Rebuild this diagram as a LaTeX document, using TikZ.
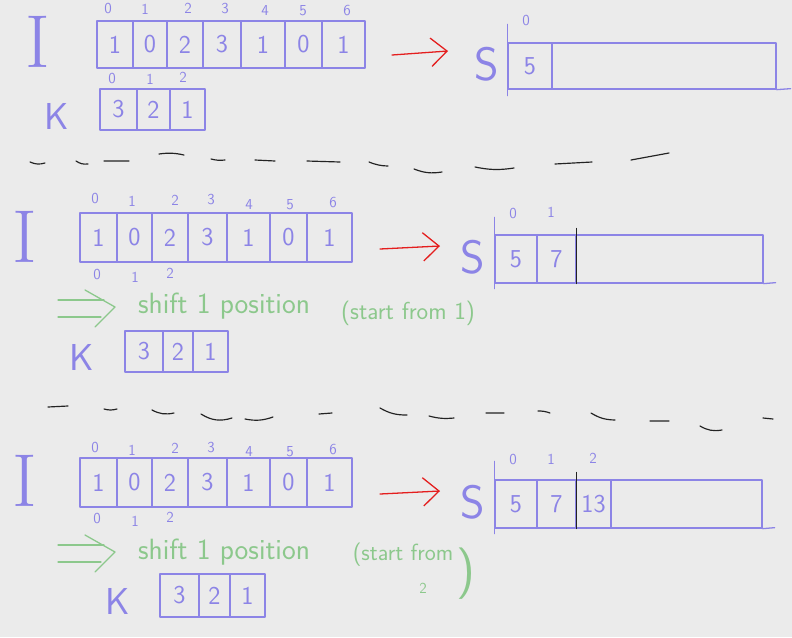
\documentclass[tikz,border=0pt]{standalone}
\usepackage{tikz}
\usetikzlibrary{arrows.meta}

\definecolor{hand}{RGB}{140,132,230}
\definecolor{redpen}{RGB}{228,30,30}
\definecolor{greenpen}{RGB}{140,200,140}
\definecolor{board}{RGB}{235,235,235}
\definecolor{inkpen}{RGB}{35,35,35}

\tikzset{
	pen/.style={draw=hand, line width=1.1pt},
	cell/.style={pen, inner sep=0pt, text=hand, font=\sffamily\fontsize{22}{22}\selectfont},
	wd/.style={minimum width=#1*0.03cm},
	ht/.style={minimum height=#1*0.03cm},
	idx/.style={text=hand, inner sep=0pt, font=\sffamily\fontsize{13}{13}\selectfont},
	arrname/.style={text=hand, inner sep=0pt, font=\sffamily\fontsize{#1}{#1}\selectfont},
	bigI/.style={text=hand, inner sep=0pt, font=\rmfamily\fontsize{64}{64}\selectfont},
	note/.style={text=greenpen, inner sep=0pt, font=\sffamily\fontsize{#1}{#1}\selectfont},
	redarrow/.style={draw=redpen, line width=1.1pt, -{Straight Barb[length=0.48cm, width=0.85cm]}},
	greenline/.style={draw=greenpen, line width=1.1pt},
	inkdash/.style={draw=inkpen, line width=1pt}
}

\begin{document}
\begin{tikzpicture}[x=0.03cm, y=-0.03cm, line join=round, line cap=round]

\fill[board] (0,0) rectangle (792,637);
\useasboundingbox (0,0) rectangle (792,637);

% first step
\node (iname1) at (38, 42) [bigI] {I};

\node (i10) at (115, 44.5) [cell, wd=36, ht=47] {1};
\node (i11) at (150, 44.5) [cell, wd=34, ht=47] {0};
\node (i12) at (185, 44.5) [cell, wd=36, ht=47] {2};
\node (i13) at (222, 44.5) [cell, wd=38, ht=47] {3};
\node (i14) at (263, 44.5) [cell, wd=44, ht=47] {1};
\node (i15) at (303.5, 44.5) [cell, wd=37, ht=47] {0};
\node (i16) at (343.5, 44.5) [cell, wd=43, ht=47] {1};

\node (n10) at (108, 9) [idx] {0};
\node (n11) at (145, 9) [idx] {1};
\node (n12) at (188, 8) [idx] {2};
\node (n13) at (225, 9) [idx] {3};
\node (n14) at (265, 11) [idx] {4};
\node (n15) at (303, 11) [idx] {5};
\node (n16) at (347, 11) [idx] {6};

\node (kname1) at (57, 116) [arrname=32] {K};
\node (k10) at (118.5, 109.5) [cell, wd=37, ht=41] {3};
\node (k11) at (153.5, 109.5) [cell, wd=33, ht=41] {2};
\node (k12) at (187.5, 109.5) [cell, wd=35, ht=41] {1};
\node (m10) at (112, 79) [idx] {0};
\node (m11) at (150, 79) [idx] {1};
\node (m12) at (183, 77) [idx] {2};

\coordinate (ra1) at (392, 55);
\coordinate (rb1) at (448, 51);
\draw[redarrow] (ra1) -- (rb1);

\node (sname1) at (487, 64) [arrname=40] {S};
\node (s10) at (530, 66) [cell, wd=44, ht=46] {5};
\node (s1r) at (664, 66) [cell, wd=224, ht=46] {};
\node (t10) at (526, 21) [idx] {0};
\draw[pen] ([yshift=0.54cm]s10.north west) -- ([yshift=-0.18cm]s10.south west);
\draw[pen] (s1r.south east) -- ++(14,-1);

\draw[inkdash] (30,162) to[bend right=20] (45,163)
	(76,161) to[bend right=20] (88,164)
	(104,161) -- (129,161)
	(159,154) to[bend left=10] (184,155)
	(211,159) to[bend right=10] (225,160)
	(255,160) -- (275,161)
	(307,161) -- (340,162)
	(369,162) to[bend right=10] (388,166)
	(414,169) to[bend right=15] (442,172)
	(475,167) to[bend right=10] (514,168)
	(555,164) -- (592,162)
	(631,160) -- (669,153);

% second step
\node (iname2) at (25, 237) [bigI] {I};

\node (i20) at (98.5, 237.5) [cell, wd=37, ht=49] {1};
\node (i21) at (134.5, 237.5) [cell, wd=35, ht=49] {0};
\node (i22) at (170, 237.5) [cell, wd=36, ht=49] {2};
\node (i23) at (207.5, 237.5) [cell, wd=39, ht=49] {3};
\node (i24) at (248.5, 237.5) [cell, wd=43, ht=49] {1};
\node (i25) at (288.5, 237.5) [cell, wd=37, ht=49] {0};
\node (i26) at (329.5, 237.5) [cell, wd=45, ht=49] {1};

\node (n20) at (95, 199) [idx] {0};
\node (n21) at (132, 201) [idx] {1};
\node (n22) at (175, 200) [idx] {2};
\node (n23) at (211, 200) [idx] {3};
\node (n24) at (249, 205) [idx] {4};
\node (n25) at (290, 205) [idx] {5};
\node (n26) at (333, 203) [idx] {6};

\node (p20) at (97, 275) [idx] {0};
\node (p21) at (135, 277) [idx] {1};
\node (p22) at (170, 273) [idx] {2};

\coordinate (ga2) at (58, 308);
\coordinate (gb2) at (115, 307);
\draw[greenline] ([yshift=0.24cm]ga2) -- ++(46,0) ([yshift=-0.27cm]ga2) -- ++(43,0);
\draw[greenline] ([shift={(-30,-17)}]gb2) -- (gb2) -- ([shift={(-20,20)}]gb2);
\node (shift2) at (224, 306) [note=25] {shift 1 position};
\node (start2) at (408, 313) [note=21] {(start from 1)};

\node (kname2) at (82, 357) [arrname=32] {K};
\node (k20) at (144, 351.5) [cell, wd=38, ht=41] {3};
\node (k21) at (178, 351.5) [cell, wd=30, ht=41] {2};
\node (k22) at (210.5, 351.5) [cell, wd=35, ht=41] {1};

\coordinate (ra2) at (380, 249);
\coordinate (rb2) at (440, 246);
\draw[redarrow] (ra2) -- (rb2);

\node (sname2) at (473, 257) [arrname=40] {S};
\node (s20) at (516, 259) [cell, wd=42, ht=48] {5};
\node (s21) at (556.5, 259) [cell, wd=39, ht=48] {7};
\node (s2r) at (669.5, 259) [cell, wd=187, ht=48] {};
\node (t20) at (513, 214) [idx] {0};
\node (t21) at (551, 212) [idx] {1};
\draw[pen] ([yshift=0.51cm]s20.north west) -- ([yshift=-0.15cm]s20.south west);
\draw[pen] (s2r.south east) -- ++(12,-1);
\draw[inkdash] ([yshift=0.18cm]s21.north east) -- (s21.south east);

\draw[inkdash] (48,407) -- (68,406)
	(104,409) to[bend right=15] (117,409)
	(152,410) to[bend right=20] (174,413)
	(201,414) to[bend right=25] (232,418)
	(245,419) to[bend right=15] (273,417)
	(319,414) -- (332,413)
	(380,408) to[bend right=15] (407,415)
	(429,416) to[bend right=10] (454,418)
	(486,413) -- (504,413)
	(538,411) to[bend left=10] (550,413)
	(591,413) to[bend right=15] (615,420)
	(650,421) -- (669,421)
	(700,426) to[bend right=20] (722,430)
	(763,418) -- (773,419);

% third step
\node (iname3) at (25, 481) [bigI] {I};

\node (i30) at (98.5, 482.5) [cell, wd=37, ht=49] {1};
\node (i31) at (134.5, 482.5) [cell, wd=35, ht=49] {0};
\node (i32) at (170, 482.5) [cell, wd=36, ht=49] {2};
\node (i33) at (207.5, 482.5) [cell, wd=39, ht=49] {3};
\node (i34) at (248.5, 482.5) [cell, wd=43, ht=49] {1};
\node (i35) at (288.5, 482.5) [cell, wd=37, ht=49] {0};
\node (i36) at (329.5, 482.5) [cell, wd=45, ht=49] {1};

\node (n30) at (95, 448) [idx] {0};
\node (n31) at (132, 450) [idx] {1};
\node (n32) at (175, 448) [idx] {2};
\node (n33) at (211, 448) [idx] {3};
\node (n34) at (249, 452) [idx] {4};
\node (n35) at (290, 452) [idx] {5};
\node (n36) at (333, 450) [idx] {6};

\node (p30) at (97, 519) [idx] {0};
\node (p31) at (135, 521) [idx] {1};
\node (p32) at (170, 517) [idx] {2};

\coordinate (ga3) at (58, 553);
\coordinate (gb3) at (115, 552);
\draw[greenline] ([yshift=0.24cm]ga3) -- ++(46,0) ([yshift=-0.27cm]ga3) -- ++(43,0);
\draw[greenline] ([shift={(-30,-17)}]gb3) -- (gb3) -- ([shift={(-20,20)}]gb3);
\node (shift3) at (224, 552) [note=25] {shift 1 position};
\node (start3) at (403, 555) [note=20] {(start from};
\node (two3) at (423, 588) [note=13] {2};
\node (close3) at (466, 574) [note=44] {)};

\node (kname3) at (118, 601) [arrname=32] {K};
\node (k30) at (179.5, 595.5) [cell, wd=39, ht=43] {3};
\node (k31) at (214.5, 595.5) [cell, wd=31, ht=43] {2};
\node (k32) at (247.5, 595.5) [cell, wd=35, ht=43] {1};

\coordinate (ra3) at (380, 494);
\coordinate (rb3) at (440, 491);
\draw[redarrow] (ra3) -- (rb3);

\node (sname3) at (473, 502) [arrname=40] {S};
\node (s30) at (516, 504) [cell, wd=42, ht=48] {5};
\node (s31) at (556.5, 504) [cell, wd=39, ht=48] {7};
\node (s32) at (593.5, 504) [cell, wd=35, ht=48] {13};
\node (s3r) at (686.5, 504) [cell, wd=151, ht=48] {};
\node (t30) at (513, 460) [idx] {0};
\node (t31) at (551, 459) [idx] {1};
\node (t32) at (593, 458) [idx] {2};
\draw[pen] ([yshift=0.54cm]s30.north west) -- ([yshift=-0.15cm]s30.south west);
\draw[pen] (s3r.south east) -- ++(12,-1);
\draw[inkdash] ([yshift=0.21cm]s31.north east) -- (s31.south east);

\end{tikzpicture}
\end{document}
